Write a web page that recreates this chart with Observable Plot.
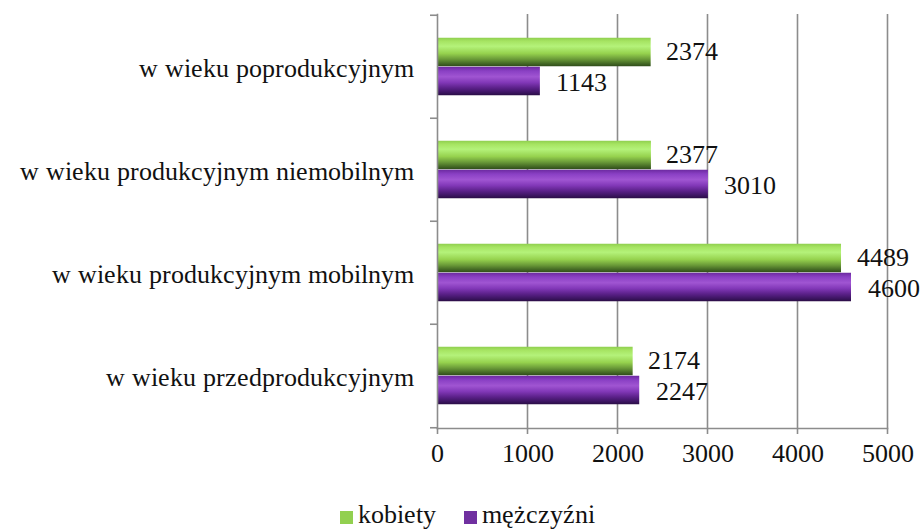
<!DOCTYPE html>
<html>
<head>
<meta charset="utf-8">
<style>
  @font-face { font-family: 'ChartSerif'; src: local('Liberation Serif'), local('LiberationSerif'), local('LiberationSerif-Regular'), local('Tinos'), local('DejaVu Serif'); }
  body { margin: 0; background: #fff; font-family: 'ChartSerif', 'Liberation Serif', serif; }
</style>
<script src="https://cdn.jsdelivr.net/npm/d3@7"></script>
<script src="https://cdn.jsdelivr.net/npm/@observablehq/plot@0.6"></script>
</head>
<body>
<div id="chart"></div>
<div id="legend" style="font-family:'ChartSerif','Liberation Serif',serif;font-size:26px;color:#111;display:flex;justify-content:center;align-items:center;height:29px;line-height:29px;margin-left:12px;gap:28px"><span><span id="sw0" style="display:inline-block;width:13px;height:13px;margin-right:5px;vertical-align:-1px"></span><span id="lab0"></span></span><span><span id="sw1" style="display:inline-block;width:13px;height:13px;margin-right:5px;vertical-align:-1px"></span><span id="lab1"></span></span></div>
<script>
const categories = [
  "w wieku poprodukcyjnym",
  "w wieku produkcyjnym niemobilnym",
  "w wieku produkcyjnym mobilnym",
  "w wieku przedprodukcyjnym"
];
const kobiety = [2374, 2377, 4489, 2174];
const mezczyzni = [1143, 3010, 4600, 2247];
const seriesNames = ["kobiety", "mężczyźni"];
const seriesColors = ["#92d050", "#7030a0"];
const xTicks = [0, 1000, 2000, 3000, 4000, 5000];

const dataK = categories.map((c, i) => ({category: c, value: kobiety[i]}));
const dataM = categories.map((c, i) => ({category: c, value: mezczyzni[i]}));

const font = "'ChartSerif', 'Liberation Serif', serif";
const FS = 26;
const W = 923, H = 500, mTop = 14, mBottom = 72;
const band = (H - mTop - mBottom) / categories.length;
const barH = 29;
const inset = (band - barH) / 2;

function defs() {
  const ns = "http://www.w3.org/2000/svg";
  const d = document.createElementNS(ns, "defs");
  const mk = (id, stops) => {
    const g = document.createElementNS(ns, "linearGradient");
    g.setAttribute("id", id);
    g.setAttribute("x1", "0"); g.setAttribute("y1", "0");
    g.setAttribute("x2", "0"); g.setAttribute("y2", "1");
    for (const [o, c] of stops) {
      const s = document.createElementNS(ns, "stop");
      s.setAttribute("offset", o); s.setAttribute("stop-color", c);
      g.appendChild(s);
    }
    d.appendChild(g);
  };
  mk("gGreen", [[0, "#8fcf4f"], [0.12, "#a6e462"], [0.3, "#b4f27a"], [0.55, "#96d24e"], [0.75, "#6a9a38"], [0.9, "#456a25"], [1, "#2f4c1a"]]);
  mk("gPurple", [[0, "#6c2aa0"], [0.15, "#8a40c4"], [0.35, "#a055d2"], [0.55, "#8238b8"], [0.75, "#5a2088"], [0.9, "#3d1562"], [1, "#2a0d45"]]);
  return d;
}

const chart = Plot.plot({
  width: W,
  height: H,
  marginLeft: 437,
  marginRight: 36,
  marginTop: mTop,
  marginBottom: mBottom,
  style: {fontFamily: font, fontSize: FS + "px", color: "#111", background: "#fff"},
  x: {domain: [0, 5000], ticks: xTicks, label: null},
  y: {domain: categories, padding: 0, label: null},
  marks: [
    defs,
    Plot.gridX(xTicks.slice(1), {stroke: "#8c8c8c", strokeOpacity: 1, strokeWidth: 1.6}),
    Plot.barX(dataK, {y: "category", x: "value", fill: "url(#gGreen)", insetTop: inset, insetBottom: inset, dy: -barH / 2}),
    Plot.barX(dataM, {y: "category", x: "value", fill: "url(#gPurple)", insetTop: inset, insetBottom: inset, dy: barH / 2}),
    Plot.text(dataK, {y: "category", x: "value", text: d => String(d.value), textAnchor: "start", dx: 15, dy: -barH / 2 - 1, fontSize: FS, fill: "#111", fontFamily: font}),
    Plot.text(dataM, {y: "category", x: "value", text: d => String(d.value), textAnchor: "start", dx: 16, dy: barH / 2 + 1, fontSize: FS, fill: "#111", fontFamily: font}),
    Plot.frame({anchor: "left", stroke: "#8c8c8c", strokeWidth: 1.6}),
    Plot.frame({anchor: "bottom", stroke: "#8c8c8c", strokeWidth: 1.6}),
    Plot.axisX({ticks: xTicks, tickFormat: d => String(d), tickSize: 6, tickPadding: 9, stroke: "#8c8c8c", strokeWidth: 1.6, fontSize: FS, fill: "#111", label: null, fontFamily: font}),
    Plot.axisY({tickSize: 0, tickPadding: 24, fontSize: FS, fill: "#111", label: null, dy: 2, fontFamily: font}),
    Plot.axisY({tickSize: 7, text: null, dy: -band / 2, stroke: "#8c8c8c", strokeWidth: 1.6, label: null}),
    Plot.axisY({ticks: categories.slice(-1), tickSize: 7, text: null, dy: band / 2, stroke: "#8c8c8c", strokeWidth: 1.6, label: null})
  ]
});
document.getElementById("chart").appendChild(chart);

seriesNames.forEach((n, i) => {
  document.getElementById("sw" + i).style.background = seriesColors[i];
  document.getElementById("lab" + i).textContent = n;
});
</script>
</body>
</html>
